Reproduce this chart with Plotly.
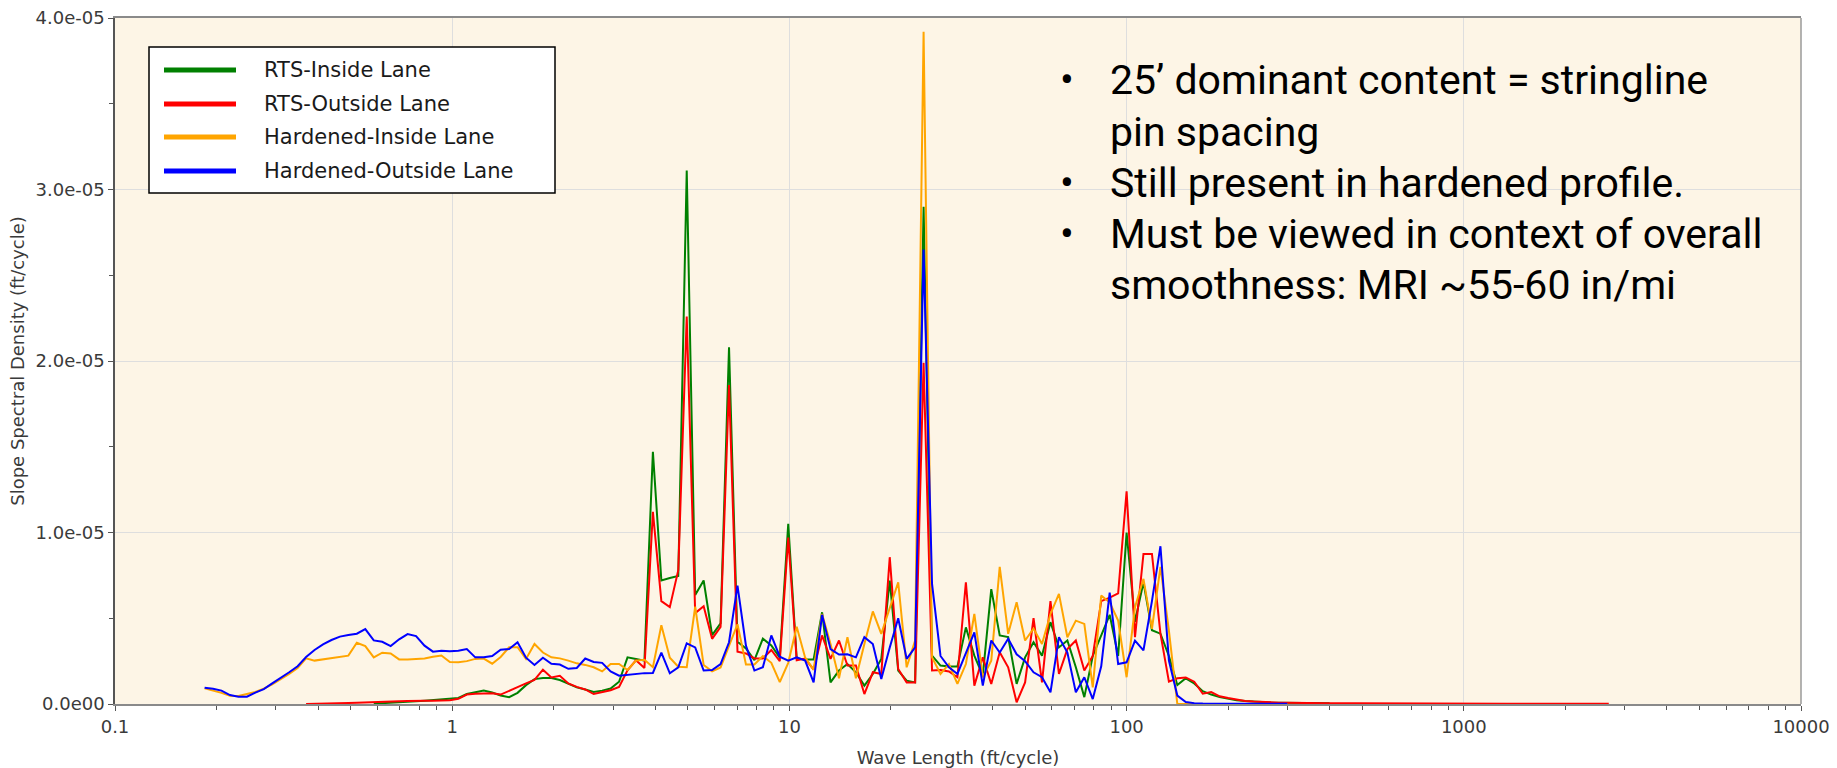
import plotly.graph_objects as go

# Wave length bands (ft/cycle), 1/12-octave centres, then a sparse tail out to the longest band
WAVELENGTH = [
    0.1844, 0.1953, 0.2069, 0.2192, 0.2323, 0.2461, 0.2607, 0.2762, 0.2926, 0.3100, 0.3285, 0.3480, 0.3687,
    0.3906, 0.4139, 0.4385, 0.4645, 0.4921, 0.5214, 0.5524, 0.5853, 0.6201, 0.6569, 0.6960, 0.7374,
    0.7813, 0.8277, 0.8769, 0.9291, 0.9843, 1.0428, 1.1049, 1.1706, 1.2402, 1.3139, 1.3920, 1.4748,
    1.5625, 1.6554, 1.7539, 1.8581, 1.9686, 2.0856, 2.2097, 2.3411, 2.4803, 2.6278, 2.7841, 2.9496,
    3.125, 3.3108, 3.5077, 3.7163, 3.9372, 4.1713, 4.4194, 4.6822, 4.9606, 5.2556, 5.5681, 5.8991,
    6.25, 6.6216, 7.0154, 7.4325, 7.8745, 8.3427, 8.8388, 9.3644, 9.9213, 10.511, 11.136, 11.798,
    12.5, 13.243, 14.031, 14.865, 15.749, 16.685, 17.678, 18.729, 19.843, 21.022, 22.272, 23.596,
    25.0, 26.486, 28.062, 29.730, 31.498, 33.371, 35.355, 37.458, 39.685, 42.045, 44.545, 47.194,
    50.0, 52.97, 56.12, 59.46, 63.00, 66.74, 70.71, 74.92, 79.37, 84.09, 89.09, 94.39,
    100.0, 105.9, 112.2, 118.9, 126.0, 133.5, 141.4, 149.8, 158.7, 168.2, 178.2, 188.8,
    200.0, 211.9, 224.5, 237.8, 252.0, 267.0, 282.8, 299.7, 317.5, 336.4, 356.4, 377.5, 400.0,
    475.7, 565.7, 672.7, 800.0, 951.4, 1131.0, 1345.0, 1600.0, 1903.0, 2263.0, 2691.0,
]

# Slope spectral density, in units of 1e-5 ft/cycle (None = band not reported)
RTS_INSIDE = [None] * 20 + [
    0.002, 0.004, 0.006, 0.008, 0.012, 0.016, 0.019, 0.023, 0.025, 0.027,
    0.035, 0.058, 0.07, 0.078, 0.067, 0.05, 0.04, 0.065, 0.11, 0.145,
    0.152, 0.152, 0.14, 0.12, 0.097, 0.085, 0.07, 0.078, 0.09, 0.13,
    0.272, 0.263, 0.253, 1.47, 0.72, 0.735, 0.746, 3.11, 0.635, 0.72,
    0.402, 0.47, 2.08, 0.363, 0.324, 0.256, 0.381, 0.342, 0.27, 1.05,
    0.265, 0.26, 0.26, 0.535, 0.126, 0.195, 0.233, 0.185, 0.107, 0.175,
    0.263, 0.72, 0.195, 0.136, 0.126, 2.90, 0.282, 0.224, 0.218, 0.218,
    0.447, 0.282, 0.165, 0.67, 0.40, 0.39, 0.117, 0.272, 0.36, 0.282,
    0.477, 0.33, 0.37, 0.214, 0.04, 0.28, 0.40, 0.52, 0.28, 1.0,
    0.48, 0.71, 0.43, 0.41, 0.28, 0.11, 0.15, 0.12, 0.075, 0.055,
    0.04, 0.03, 0.022, 0.017, 0.013, 0.01, 0.009, 0.008, 0.007, 0.006,
    0.006, 0.005, 0.005, 0.005,
] + [None] * 11

RTS_OUTSIDE = [None] * 12 + [
    0.0, 0.002, 0.003, 0.004, 0.005, 0.006, 0.007, 0.008,
    0.01, 0.012, 0.014, 0.016, 0.018, 0.02, 0.019, 0.019, 0.02, 0.022,
    0.03, 0.055, 0.06, 0.062, 0.062, 0.055, 0.075, 0.098, 0.12, 0.14,
    0.20, 0.155, 0.164, 0.12, 0.10, 0.085, 0.058, 0.07, 0.08, 0.10,
    0.196, 0.255, 0.21, 1.12, 0.60, 0.565, 0.78, 2.26, 0.53, 0.57,
    0.38, 0.45, 1.86, 0.305, 0.295, 0.266, 0.266, 0.315, 0.25, 0.97,
    0.255, 0.265, 0.20, 0.40, 0.263, 0.37, 0.224, 0.224, 0.058, 0.185,
    0.175, 0.856, 0.204, 0.126, 0.126, 1.99, 0.195, 0.198, 0.19, 0.156,
    0.71, 0.107, 0.272, 0.117, 0.302, 0.214, 0.01, 0.126, 0.50, 0.126,
    0.60, 0.175, 0.32, 0.37, 0.195, 0.28, 0.60, 0.62, 0.645, 1.24,
    0.39, 0.875, 0.875, 0.41, 0.13, 0.15, 0.155, 0.13, 0.06, 0.07,
    0.045, 0.035, 0.025, 0.018, 0.014, 0.011, 0.009, 0.008, 0.007, 0.006,
    0.005, 0.005, 0.004, 0.004,
    0.004, 0.003, 0.003, 0.003, 0.003, 0.002, 0.002, 0.002, 0.002, 0.002, 0.002,
]

HARDENED_INSIDE = [
    0.091, 0.08, 0.065, 0.048, 0.047, 0.058, 0.07, 0.09, 0.115, 0.145,
    0.175, 0.21, 0.266, 0.253, 0.26, 0.27, 0.276, 0.282, 0.357, 0.338,
    0.272, 0.299, 0.295, 0.26, 0.26, 0.262, 0.265, 0.275, 0.283, 0.245,
    0.243, 0.25, 0.263, 0.265, 0.235, 0.274, 0.331, 0.331, 0.263, 0.35,
    0.30, 0.272, 0.266, 0.253, 0.237, 0.228, 0.214, 0.19, 0.233, 0.233,
    0.198, 0.253, 0.258, 0.215, 0.459, 0.27, 0.217, 0.214, 0.567, 0.227,
    0.19, 0.213, 0.34, 0.465, 0.23, 0.23, 0.28, 0.24, 0.127, 0.24,
    0.45, 0.27, 0.2, 0.525, 0.35, 0.15, 0.389, 0.15, 0.35, 0.54,
    0.409, 0.564, 0.71, 0.214, 0.37, 3.92, 0.272, 0.175, 0.233, 0.117,
    0.233, 0.525, 0.156, 0.253, 0.80, 0.409, 0.593, 0.37, 0.44, 0.35,
    0.525, 0.642, 0.389, 0.486, 0.467, 0.097, 0.632, 0.593, 0.486, 0.156,
    0.564, 0.73, 0.438, 0.80, 0.428, 0.0, 0.0, 0.0, 0.0, 0.0,
    0.0, 0.0, 0.0, 0.0, 0.0, 0.0, 0.0, 0.0, 0.0,
] + [None] * 16

HARDENED_OUTSIDE = [
    0.095, 0.089, 0.078, 0.052, 0.043, 0.043, 0.066, 0.087, 0.12, 0.15,
    0.185, 0.22, 0.274, 0.315, 0.348, 0.373, 0.393, 0.402, 0.41, 0.437,
    0.371, 0.363, 0.338, 0.377, 0.408, 0.396, 0.34, 0.305, 0.31, 0.308,
    0.31, 0.32, 0.272, 0.272, 0.28, 0.317, 0.32, 0.36, 0.27, 0.228,
    0.27, 0.235, 0.23, 0.205, 0.21, 0.265, 0.245, 0.24, 0.19, 0.165,
    0.171, 0.178, 0.18, 0.181, 0.30, 0.179, 0.214, 0.354, 0.33, 0.195,
    0.198, 0.233, 0.36, 0.69, 0.34, 0.195, 0.214, 0.40, 0.276, 0.253,
    0.272, 0.253, 0.126, 0.52, 0.32, 0.288, 0.29, 0.272, 0.39, 0.35,
    0.146, 0.33, 0.50, 0.263, 0.33, 2.65, 0.70, 0.28, 0.214, 0.175,
    0.30, 0.418, 0.107, 0.37, 0.30, 0.38, 0.29, 0.25, 0.185, 0.156,
    0.068, 0.39, 0.30, 0.068, 0.156, 0.029, 0.22, 0.65, 0.233, 0.243,
    0.37, 0.313, 0.60, 0.92, 0.253, 0.049, 0.012, 0.005, 0.003, 0.002,
    0.002, 0.002, 0.002, 0.002, 0.002, 0.002, 0.002, 0.002, 0.002,
] + [None] * 16

SERIES_NAMES = ["RTS-Inside Lane", "RTS-Outside Lane", "Hardened-Inside Lane", "Hardened-Outside Lane"]
SERIES_COLORS = ["#008000", "#FF0000", "#FFA500", "#0000FF"]
SERIES_VALUES = [RTS_INSIDE, RTS_OUTSIDE, HARDENED_INSIDE, HARDENED_OUTSIDE]
UNIT = 1e-5

X_TICKS = [0.1, 1, 10, 100, 1000, 10000]
X_TICK_TEXT = ["0.1", "1", "10", "100", "1000", "10000"]
Y_TICKS = [0, 1e-5, 2e-5, 3e-5, 4e-5]
Y_TICK_TEXT = ["0.0e00", "1.0e-05", "2.0e-05", "3.0e-05", "4.0e-05"]

NOTES = [
    ("•", "25’ dominant content = stringline"),
    ("", "pin spacing"),
    ("•", "Still present in hardened profile."),
    ("•", "Must be viewed in context of overall"),
    ("", "smoothness: MRI ~55-60 in/mi"),
]

# ---- page geometry (pixels) ----
W, H = 1837, 768
PLOT_L, PLOT_R, PLOT_T, PLOT_B = 115, 1801, 18, 704


def px(xp):
    return (xp - PLOT_L) / (PLOT_R - PLOT_L)


def py(yp):
    return (PLOT_B - yp) / (PLOT_B - PLOT_T)


fig = go.Figure()
for name, color, vals in zip(SERIES_NAMES, SERIES_COLORS, SERIES_VALUES):
    fig.add_trace(go.Scatter(
        x=WAVELENGTH,
        y=[None if v is None else v * UNIT for v in vals],
        mode="lines", name=name,
        line=dict(color=color, width=2),
        connectgaps=False, showlegend=False,
    ))

minor_x = [m * 10 ** e for e in range(-1, 4) for m in range(2, 10)]

fig.update_layout(
    width=W, height=H,
    margin=dict(l=PLOT_L, r=W - PLOT_R, t=PLOT_T, b=H - PLOT_B),
    paper_bgcolor="white", plot_bgcolor="#FDF5E6",
    font=dict(family="DejaVu Sans", size=18, color="#3a3a3a"),
    showlegend=False,
)
fig.update_xaxes(
    type="log", range=[-1, 4], automargin=False,
    tickmode="array", tickvals=X_TICKS, ticktext=X_TICK_TEXT,
    showgrid=True, gridcolor="#DEDEDE", gridwidth=1,
    ticks="outside", ticklen=5, tickcolor="#555",
    minor=dict(tickmode="array", tickvals=minor_x, ticks="outside", ticklen=4,
               tickcolor="#555", showgrid=False),
    showline=True, linecolor="#8a8a8a", linewidth=2, mirror=True,
    zeroline=False,
    title=dict(text="Wave Length (ft/cycle)", font=dict(size=18, color="#3a3a3a"), standoff=17),
)
fig.update_yaxes(
    range=[0, 4e-5], automargin=False,
    tickmode="array", tickvals=Y_TICKS, ticktext=Y_TICK_TEXT,
    showgrid=True, gridcolor="#DEDEDE", gridwidth=1,
    ticks="outside", ticklen=5, tickcolor="#555",
    minor=dict(dtick=5e-6, tick0=0, ticks="outside", ticklen=4, tickcolor="#555", showgrid=False),
    showline=True, linecolor="#555", linewidth=1.5, mirror=False,
    zeroline=False,
    title=dict(text="Slope Spectral Density (ft/cycle)", font=dict(size=18, color="#3a3a3a"), standoff=6),
)

shapes = [
    # right-hand frame edge
    dict(type="line", xref="paper", yref="paper", x0=1, x1=1, y0=0, y1=1,
         line=dict(color="#9a9a9a", width=1.5)),
    # legend box
    dict(type="rect", xref="paper", yref="paper",
         x0=px(149), x1=px(555), y0=py(193), y1=py(47),
         fillcolor="white", line=dict(color="black", width=1.5), layer="above"),
]
annotations = []
legend_rows = [70, 104, 137, 171]
for name, color, row in zip(SERIES_NAMES, SERIES_COLORS, legend_rows):
    shapes.append(dict(type="line", xref="paper", yref="paper",
                       x0=px(164), x1=px(236), y0=py(row), y1=py(row),
                       line=dict(color=color, width=5), layer="above"))
    annotations.append(dict(xref="paper", yref="paper", x=px(262), y=py(row),
                            xanchor="left", yanchor="middle", showarrow=False,
                            text=name, font=dict(family="DejaVu Sans", size=21, color="#1a1a1a")))

note_font = dict(family="Roboto", size=41, color="black")
note_rows = [80, 132, 183, 234, 285]
for (bullet, line), row in zip(NOTES, note_rows):
    if bullet:
        annotations.append(dict(xref="paper", yref="paper", x=px(1058), y=py(row),
                                xanchor="left", yanchor="middle", showarrow=False,
                                text=bullet, font=note_font))
    annotations.append(dict(xref="paper", yref="paper", x=px(1108), y=py(row),
                            xanchor="left", yanchor="middle", showarrow=False,
                            text=line, font=note_font))

fig.update_layout(shapes=shapes, annotations=annotations)

fig.write_html("out.html")
